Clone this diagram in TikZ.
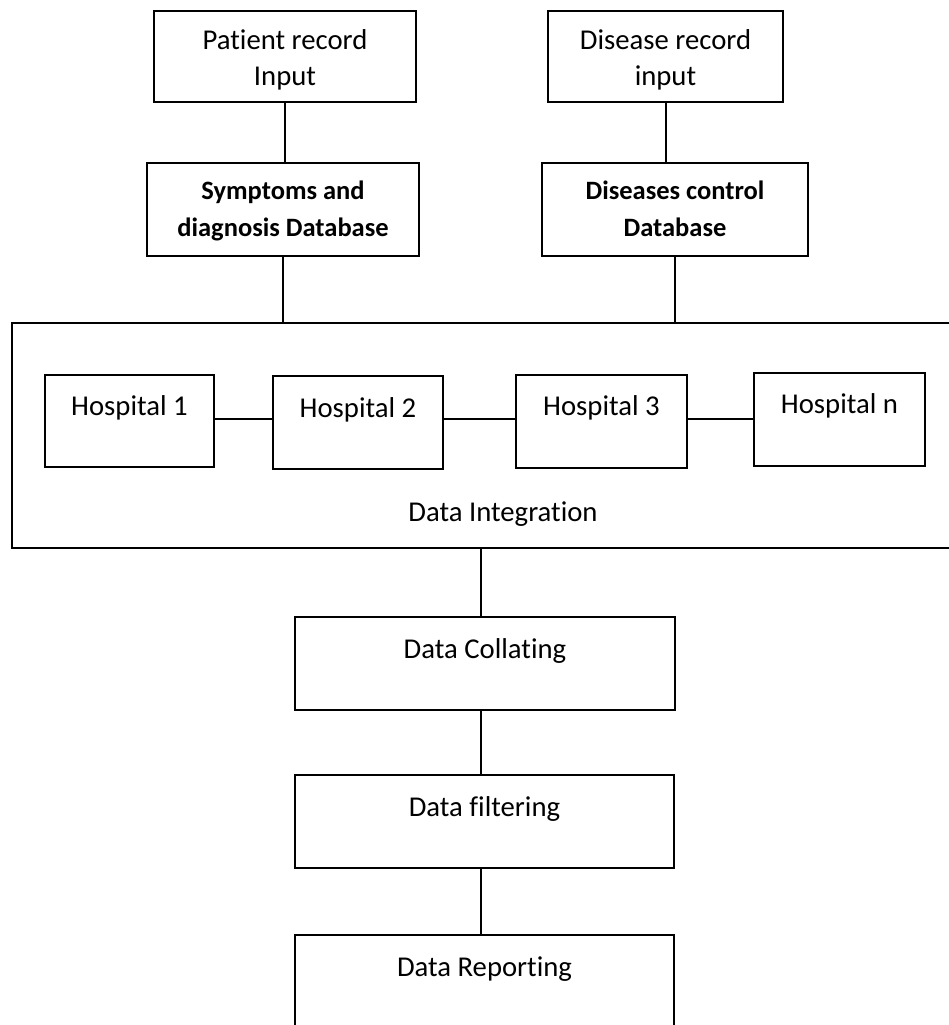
\documentclass[tikz,border=0pt]{standalone}
\usepackage{fontspec}
\setmainfont{Carlito}[Ligatures={NoCommon}]
\usetikzlibrary{calc}
\begin{document}
\begin{tikzpicture}[x=1pt,y=-1pt,
  box/.style={draw=black, line width=2.6pt, inner sep=0pt},
  link/.style={draw=black, line width=2pt},
  lbl/.style={anchor=base, inner sep=0pt, font=\fontsize{28.7}{36}\selectfont},
  blbl/.style={anchor=base, inner sep=0pt, font=\fontsize{26.5}{37}\selectfont\bfseries}]
\useasboundingbox (0,0) rectangle (949,1025);
\clip (0,0) rectangle (949,1025);

% input records
\node[box, minimum width=262pt, minimum height=91pt] (pat) at (285,56.5) {};
\node[lbl] (patT) at (285,49) {\begin{tabular}[t]{@{}c@{}}Patient record\\Input\end{tabular}};
\node[box, minimum width=235pt, minimum height=91pt] (dis) at (665.5,56.5) {};
\node[lbl] (disT) at (665.5,49) {\begin{tabular}[t]{@{}c@{}}Disease record\\input\end{tabular}};

% databases
\node[box, minimum width=272pt, minimum height=93pt] (sym) at (283,209.5) {};
\node[blbl] (symT) at (283,199) {\begin{tabular}[t]{@{}c@{}}Symptoms and\\diagnosis Database\end{tabular}};
\node[box, minimum width=266pt, minimum height=93pt] (dcb) at (675,209.5) {};
\node[blbl] (dcbT) at (675,199) {\begin{tabular}[t]{@{}c@{}}Diseases control\\Database\end{tabular}};

% integration frame with hospitals
\node[box, minimum width=983pt, minimum height=225pt] (integ) at (503.5,435.5) {};
\node[lbl] (integT) at (503,521) {Data Integration};
\node[box, minimum width=169pt, minimum height=92pt] (h1) at (129.5,421) {};
\node[lbl] (h1T) at (129.5,415) {Hospital 1};
\node[box, minimum width=170pt, minimum height=93pt] (h2) at (358,422.5) {};
\node[lbl] (h2T) at (358,417) {Hospital 2};
\node[box, minimum width=171pt, minimum height=93pt] (h3) at (601.5,421.5) {};
\node[lbl] (h3T) at (601.5,415) {Hospital 3};
\node[box, minimum width=171pt, minimum height=93pt] (hn) at (839.5,419.5) {};
\node[lbl] (hnT) at (839.5,413) {Hospital n};

% processing chain
\node[box, minimum width=380pt, minimum height=93pt] (col) at (485,663.5) {};
\node[lbl] (colT) at (485,658) {Data Collating};
\node[box, minimum width=379pt, minimum height=93pt] (fil) at (484.5,821.5) {};
\node[lbl] (filT) at (484.5,816) {Data filtering};
\node[box, minimum width=379pt, minimum height=130pt] (rep) at (484.5,1000) {};
\node[lbl] (repT) at (484.5,976) {Data Reporting};

% connectors
\draw[link] (pat.south) -- (pat.south |- sym.north);
\draw[link] (dis.south) -- (dis.south |- dcb.north);
\draw[link] (sym.south) -- (sym.south |- integ.north);
\draw[link] (dcb.south) -- (dcb.south |- integ.north);
\draw[link] (h1.east |- 0,419) -- (h2.west |- 0,419);
\draw[link] (h2.east |- 0,419) -- (h3.west |- 0,419);
\draw[link] (h3.east |- 0,419) -- (hn.west |- 0,419);
\draw[link] ($(col.north)+(-4,0)$) coordinate (colIn) -- (colIn |- integ.south);
\draw[link] ($(col.south)+(-4,0)$) coordinate (colOut) -- (colOut |- fil.north);
\draw[link] ($(fil.south)+(-3.5,0)$) coordinate (filOut) -- (filOut |- rep.north);
\end{tikzpicture}
\end{document}
